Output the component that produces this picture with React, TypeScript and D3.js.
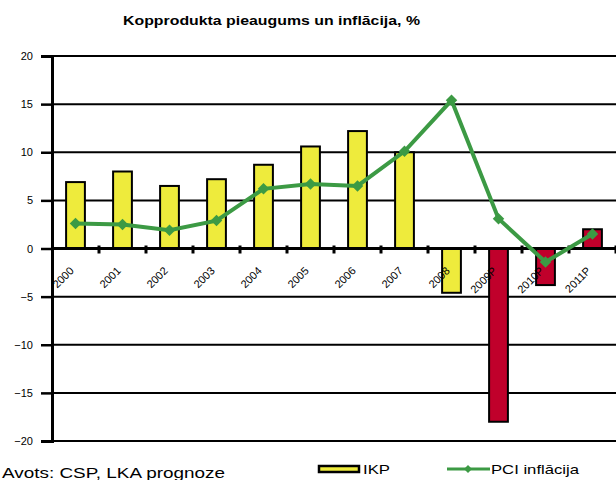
import React, { useEffect, useRef } from "react";
import * as d3 from "d3";

// data
const years = ["2000", "2001", "2002", "2003", "2004", "2005", "2006", "2007", "2008", "2009P", "2010P", "2011P"];
const ikp = [6.9, 8.0, 6.5, 7.2, 8.7, 10.6, 12.2, 10.0, -4.6, -18.0, -3.8, 2.0];
const pci = [2.6, 2.5, 1.9, 2.9, 6.2, 6.7, 6.5, 10.1, 15.4, 3.1, -1.4, 1.5];
const forecast = [false, false, false, false, false, false, false, false, false, true, true, true];
const yTicks = [20, 15, 10, 5, 0, -5, -10, -15, -20];

const W = 616;
const H = 480;
const margin = { top: 56, right: 0, bottom: 39, left: 52 };
const FONT = "'Liberation Sans', Arial, sans-serif";
const YELLOW = "#EEEB3C";
const RED = "#C0002B";
const GREEN = "#3C9A44";

const App = () => {
    const ref = useRef<SVGSVGElement | null>(null);

    useEffect(() => {
        document.body.style.margin = "0";
        const svg = d3.select(ref.current);
        svg.selectAll("*").remove();

        const x = d3.scaleBand<string>()
            .domain(years)
            .range([margin.left, W - margin.right])
            .paddingInner(0.6)
            .paddingOuter(0.3);
        const step = x.step();
        const y = d3.scaleLinear().domain([-20, 20]).range([H - margin.bottom, margin.top]);
        const cx = (d: string) => (x(d) as number) + x.bandwidth() / 2;

        // title (the original is stretched sideways, so fit text to its width)
        svg.append("text")
            .attr("x", 123).attr("y", 25)
            .attr("textLength", 297).attr("lengthAdjust", "spacingAndGlyphs")
            .style("font-family", FONT).style("font-size", "13.5px").style("font-weight", "bold")
            .text("Kopprodukta pieaugums un inflācija, %");

        // gridlines
        svg.append("g").selectAll("line")
            .data(yTicks.filter(t => t !== 0))
            .enter().append("line")
            .attr("x1", margin.left).attr("x2", W)
            .attr("y1", d => y(d)).attr("y2", d => y(d))
            .attr("stroke", "#000").attr("stroke-width", 2);

        // y axis
        const yAxis = svg.append("g")
            .attr("transform", `translate(${margin.left},0)`)
            .call(d3.axisLeft(y).tickValues(yTicks).tickSize(11).tickPadding(8));
        yAxis.select(".domain").attr("stroke-width", 3);
        yAxis.selectAll(".tick line").attr("stroke-width", 2.5);
        yAxis.selectAll(".tick text")
            .style("font-family", FONT).style("font-size", "11px").attr("fill", "#000");

        // bars
        svg.append("g").selectAll("rect")
            .data(years)
            .enter().append("rect")
            .attr("x", d => x(d) as number)
            .attr("width", x.bandwidth())
            .attr("y", (d, i) => y(Math.max(0, ikp[i])))
            .attr("height", (d, i) => Math.abs(y(ikp[i]) - y(0)))
            .attr("fill", (d, i) => forecast[i] ? RED : YELLOW)
            .attr("stroke", "#000").attr("stroke-width", 2);

        // zero line with category ticks
        svg.append("line")
            .attr("x1", margin.left).attr("x2", W)
            .attr("y1", y(0)).attr("y2", y(0))
            .attr("stroke", "#000").attr("stroke-width", 3);
        svg.append("g").selectAll("line")
            .data(d3.range(1, years.length + 1))
            .enter().append("line")
            .attr("x1", i => margin.left + i * step).attr("x2", i => margin.left + i * step)
            .attr("y1", y(0) - 3).attr("y2", y(0) + 5)
            .attr("stroke", "#000").attr("stroke-width", 3);

        // category labels
        svg.append("g").selectAll("text")
            .data(years)
            .enter().append("text")
            .attr("transform", d => `translate(${cx(d) - 1},${y(0) + 23}) rotate(-45)`)
            .attr("text-anchor", "end")
            .style("font-family", FONT).style("font-size", "11px")
            .text(d => d);

        // inflation line
        const line = d3.line<number>()
            .x((d, i) => cx(years[i]))
            .y(d => y(d));
        svg.append("path")
            .datum(pci)
            .attr("d", line)
            .attr("fill", "none")
            .attr("stroke", GREEN).attr("stroke-width", 4);
        const diamond = d3.symbol().type(d3.symbolDiamond2).size(85);
        svg.append("g").selectAll("path")
            .data(pci)
            .enter().append("path")
            .attr("d", diamond())
            .attr("transform", (d, i) => `translate(${cx(years[i])},${y(d)})`)
            .attr("fill", GREEN);

        // source
        svg.append("text")
            .attr("x", 2).attr("y", 478)
            .attr("textLength", 223).attr("lengthAdjust", "spacingAndGlyphs")
            .style("font-family", FONT).style("font-size", "14.5px")
            .text("Avots: CSP, LKA prognoze");

        // legend
        const lg = svg.append("g").style("font-family", FONT).style("font-size", "13px");
        lg.append("rect")
            .attr("x", 319).attr("y", 466).attr("width", 40).attr("height", 6)
            .attr("fill", YELLOW).attr("stroke", "#000").attr("stroke-width", 2.5);
        lg.append("text").attr("x", 363).attr("y", 474)
            .attr("textLength", 27).attr("lengthAdjust", "spacingAndGlyphs")
            .text("IKP");
        lg.append("line")
            .attr("x1", 447).attr("x2", 490).attr("y1", 469).attr("y2", 469)
            .attr("stroke", GREEN).attr("stroke-width", 3);
        lg.append("path")
            .attr("d", d3.symbol().type(d3.symbolDiamond2).size(40)())
            .attr("transform", "translate(468,469)")
            .attr("fill", GREEN);
        lg.append("text").attr("x", 491).attr("y", 474)
            .attr("textLength", 88).attr("lengthAdjust", "spacingAndGlyphs")
            .text("PCI inflācija");
    }, []);

    return <svg ref={ref} width={W} height={H} style={{ display: "block", background: "#fff" }} />;
};

export default App;
